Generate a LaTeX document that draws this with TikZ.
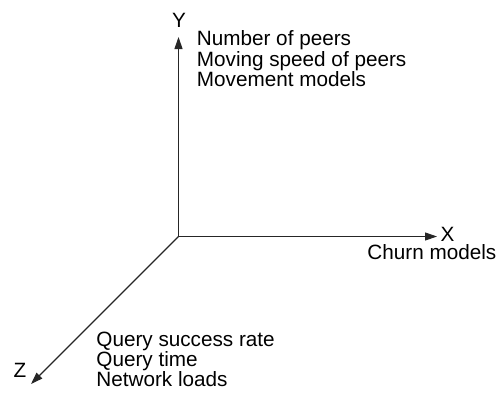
\documentclass[tikz,border=0pt]{standalone}
\usepackage{fontspec}
\setmainfont{Liberation Sans}
\usetikzlibrary{arrows.meta}
\colorlet{axis edge}{black!85}
\tikzset{axis/.style={draw=axis edge, line width=0.55pt, -{Triangle[length=6pt,width=4pt]}},
	axislabel/.style={inner sep=0pt, anchor=base},
	textblock/.style={inner sep=0pt, anchor=north west, align=left}}

\begin{document}
\begin{tikzpicture}[x=0.5pt,y=-0.5pt,font=\fontsize{10.35}{10.15}\selectfont]
		\useasboundingbox (0,0) rectangle (496,392);
		\coordinate (o) at (178.5,236.5);
		\coordinate (ytip) at (178.5,37);
		\coordinate (xtip) at (437,236.5);
		\coordinate (ztip) at (31,384);
		
		\draw[axis] (o) -- (ytip);
		\draw[axis] (o) -- (xtip);
		\draw[axis] (o) -- (ztip);
		
		\node[axislabel] (ylabel) at (179,27) {Y};
		\node[axislabel] (xlabel) at (447.5,241) {X};
		\node[axislabel] (zlabel) at (20,377) {Z};
		
		\node[textblock] (ytext) at (196.5,30.5) {Number of peers\\Moving speed of peers\\Movement models};
		\node[inner sep=0pt, anchor=base west] (xtext) at (367,259) {Churn models};
		\node[textblock] (ztext) at (96,331.5) {Query success rate\\Query time\\Network loads};
		\end{tikzpicture}
\end{document}
